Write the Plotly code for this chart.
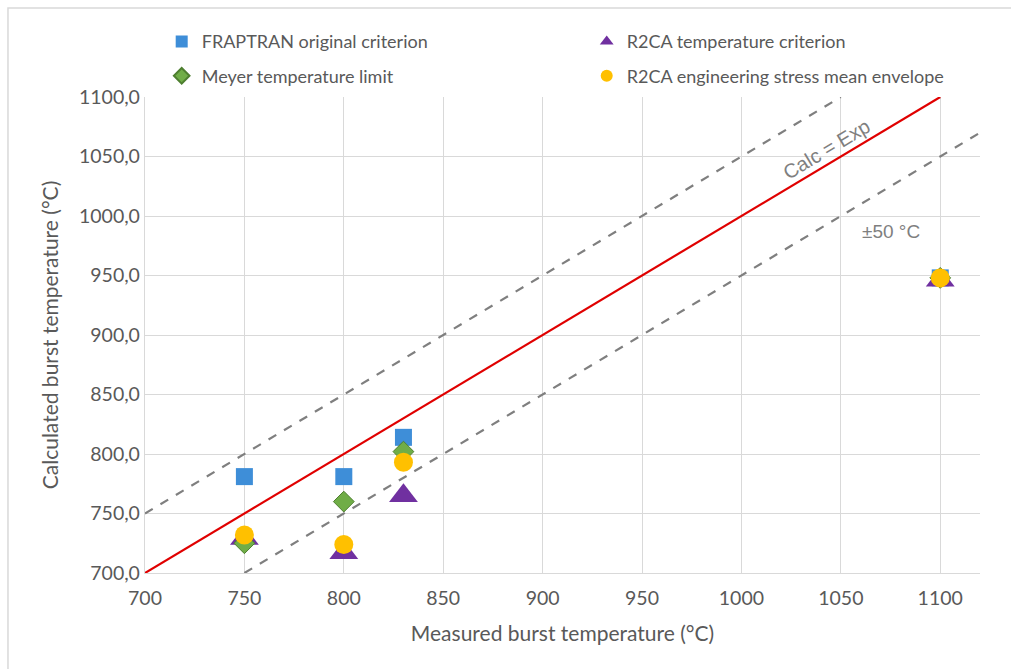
import plotly.graph_objects as go

measured = [750, 800, 830, 1100]
fraptran = [781, 781, 814, 948]
meyer = [725, 760, 802, 948]
r2ca_temp = [729, 717, 765, 946]
r2ca_stress = [732, 724, 793, 948]

ref_x = [700, 1100]
upper_x = [700, 1050]
lower_x = [750, 1120]
band = 50

x_ticks = [700, 750, 800, 850, 900, 950, 1000, 1050, 1100]
y_ticks = [700, 750, 800, 850, 900, 950, 1000, 1050, 1100]

FONT = "Lato, 'Open Sans', sans-serif"
GREY = "#595959"

fig = go.Figure()

# reference lines
fig.add_trace(go.Scatter(x=upper_x, y=[v + band for v in upper_x], mode="lines",
                         line=dict(color="#7F7F7F", width=2.2, dash="dash"),
                         showlegend=False, hoverinfo="skip"))
fig.add_trace(go.Scatter(x=lower_x, y=[v - band for v in lower_x], mode="lines",
                         line=dict(color="#7F7F7F", width=2.2, dash="dash"),
                         showlegend=False, hoverinfo="skip"))
fig.add_trace(go.Scatter(x=ref_x, y=ref_x, mode="lines",
                         line=dict(color="#E00000", width=2.2),
                         showlegend=False, hoverinfo="skip"))

fig.add_trace(go.Scatter(x=measured, y=fraptran, mode="markers", name="FRAPTRAN original criterion",
                         marker=dict(symbol="square", size=17, color="#3E8ED8"),
                         legend="legend", legendgroup="a"))
fig.add_trace(go.Scatter(x=measured, y=r2ca_temp, mode="markers", name="R2CA temperature criterion",
                         marker=dict(symbol="triangle-up", size=25, color="#7030A0"),
                         legend="legend2", legendgroup="b"))
fig.add_trace(go.Scatter(x=measured, y=meyer, mode="markers", name="Meyer temperature limit",
                         marker=dict(symbol="diamond", size=16, color="#70AD47",
                                     line=dict(color="#4E7F30", width=1)),
                         legend="legend", legendgroup="c"))
fig.add_trace(go.Scatter(x=measured, y=r2ca_stress, mode="markers", name="R2CA engineering stress mean envelope",
                         marker=dict(symbol="circle", size=19, color="#FFC000"),
                         legend="legend2", legendgroup="d"))

legend_common = dict(orientation="v", xanchor="left", yanchor="top", bgcolor="rgba(0,0,0,0)",
                     font=dict(family=FONT, size=18, color=GREY), traceorder="grouped",
                     tracegroupgap=8, itemwidth=30, itemsizing="constant")

fig.update_layout(
    width=1011, height=669,
    margin=dict(l=145, r=31, t=97, b=96),
    paper_bgcolor="white", plot_bgcolor="white",
    font=dict(family=FONT, color=GREY),
    legend=dict(x=0.02, y=1.155, **legend_common),
    legend2=dict(x=0.529, y=1.155, **legend_common),
    xaxis=dict(range=[700, 1120], tickvals=x_ticks, tickformat="d",
               showgrid=True, gridcolor="#D9D9D9", gridwidth=1.3,
               showline=True, linecolor="#D9D9D9", linewidth=1.3, zeroline=False,
               ticks="outside", ticklen=7, tickcolor="rgba(0,0,0,0)",
               tickfont=dict(family=FONT, size=19.5, color=GREY),
               title=dict(text="Measured burst temperature (°C)",
                          font=dict(family=FONT, size=21, color=GREY), standoff=18)),
    yaxis=dict(range=[700, 1100], tickvals=y_ticks, tickformat=".1f",
               showgrid=True, gridcolor="#D9D9D9", gridwidth=1.3,
               showline=True, linecolor="#D9D9D9", linewidth=1.3, zeroline=False,
               tickfont=dict(family=FONT, size=19.5, color=GREY),
               title=dict(text="Calculated burst temperature (°C)",
                          font=dict(family=FONT, size=21, color=GREY), standoff=14)),
    separators=",.",
    annotations=[
        dict(x=1043, y=1056, xref="x", yref="y", text="Calc = Exp", showarrow=False,
             textangle=-31, font=dict(family="Liberation Sans, Arial", size=20, color="#7F7F7F")),
        dict(x=1075, y=987, xref="x", yref="y", text="±50 °C", showarrow=False,
             font=dict(family="Liberation Sans, Arial", size=19, color="#7F7F7F")),
    ],
    shapes=[dict(type="rect", xref="paper", yref="paper", x0=-0.1641, x1=1.1, y0=-0.3, y1=1.187,
                 line=dict(color="#D9D9D9", width=1.5), layer="below")],
)

fig.write_html("out.html")
